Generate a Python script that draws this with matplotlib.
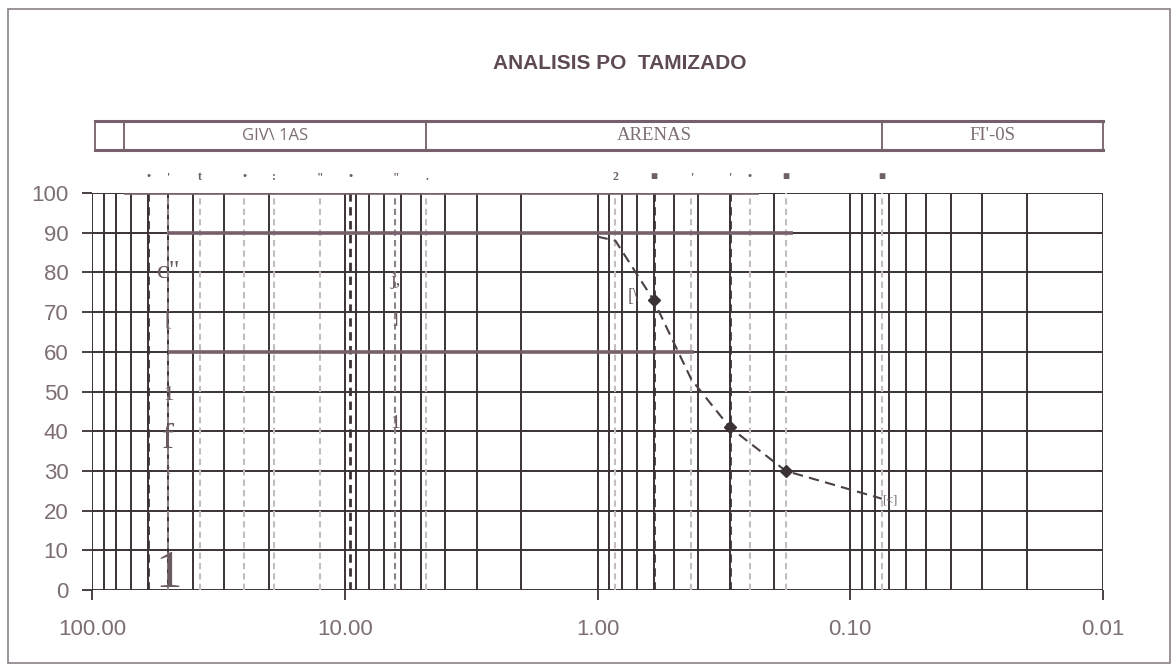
import numpy as np
import matplotlib
matplotlib.use('Agg')
import matplotlib.pyplot as plt
from matplotlib.patches import Rectangle
from matplotlib.transforms import blended_transform_factory

# grading curve (sieve opening in mm, % passing)
curve_mm = [1.0, 0.85, 0.6, 0.425, 0.3, 0.18, 0.075]
curve_pass = [89, 88, 73, 53, 41, 30, 23]
marked = [2, 4, 5]

# sieve lines drawn over the log grid
sieve_mm = [60.0, 50.0, 37.5, 25.0, 19.0, 12.5, 9.5, 6.3, 4.75, 0.85, 0.6, 0.425, 0.3, 0.25, 0.18, 0.075]
sieve_shade = ['dark', 'mid', 'light', 'light', 'light', 'light', 'dark', 'mid', 'light',
               'light', 'dark', 'light', 'dark', 'light', 'light', 'light']
sieve_top = ['•', "'", 't', '•', ':', '"', '•', '"', '.', '2', '■', "'", "'", '•', '■', '■']

# heavy horizontal lines (level, from mm, to mm)
ref_level = [100, 90, 60]
ref_from = [75.0, 50.0, 50.0]
ref_to = [0.23, 0.168, 0.415]

# soil class band above the chart
band_edges = [97.0, 75.0, 4.75, 0.075, 0.01]
band_names = ['', 'GIV\\ 1AS', 'ARENAS', "FI'-0S"]
band_fonts = ['Open Sans', 'Open Sans', 'Liberation Serif', 'Liberation Serif']
band_sizes = [12, 12, 13.5, 13.5]

# stray glyphs left in the scan
glyph_text = ['c"', '[', '1', 'f', 't', '1', 'j,', ']', '1', '[\\']
glyph_mm = [50.0, 50.0, 50.0, 50.0, 50.0, 50.0, 6.3, 6.3, 6.3, 0.72]
glyph_y = [80, 68, 49, 38, 30, 4, 78, 68, 42, 74]
glyph_size = [19, 15, 15, 26, 11, 38, 14, 12, 14, 13]

xticks = [100, 10, 1, 0.1, 0.01]
yticks = list(range(0, 101, 10))

ink = '#3b3236'
mauve = '#76606b'
txt = '#7d6e73'
shade_col = {'dark': '#3b3236', 'mid': '#8c8288', 'light': '#c3bcc0'}

fig = plt.figure(figsize=(11.75, 6.69), dpi=100)
ax = fig.add_axes([92 / 1175, 79 / 669, 1011 / 1175, 397 / 669])
ax.set_xscale('log')
ax.set_xlim(100, 0.01)
ax.set_ylim(0, 100)

# log grid
minor = [m * 10.0 ** e for e in range(-2, 2) for m in range(1, 10)] + [100]
for v in minor:
    ax.axvline(v, color=ink, lw=1.4, zorder=1)
for v in yticks:
    ax.axhline(v, color=ink, lw=1.4, zorder=1)

# sieve lines
for mm, sh, lab in zip(sieve_mm, sieve_shade, sieve_top):
    lw = 2.0 if sh == 'dark' else 1.5
    ax.axvline(mm, color=shade_col[sh], lw=lw, ls=(0, (3, 2)), zorder=2)
    ax.text(mm, 102.5, lab, ha='center', va='bottom', fontsize=8.5, color='#6f6066',
            family='Liberation Serif', fontweight='bold')

for lev, a, b in zip(ref_level, ref_from, ref_to):
    ax.plot([a, b], [lev, lev], color=mauve, lw=2.6, solid_capstyle='butt', zorder=3)

ax.plot(curve_mm, curve_pass, color='#4a4045', lw=1.5, ls=(0, (5, 3)), zorder=4)
ax.plot([curve_mm[i] for i in marked], [curve_pass[i] for i in marked], 'D',
        color='#3b3236', ms=6, zorder=5)
ax.text(curve_mm[-1], curve_pass[-1] - 0.5, '[<]', ha='left', va='center', fontsize=9,
        color='#6f6066', family='Liberation Serif', zorder=5)

for t, mm, yv, fs in zip(glyph_text, glyph_mm, glyph_y, glyph_size):
    ax.text(mm, yv, t, ha='center', va='center', fontsize=fs, color='#6a5a62',
            family='Liberation Serif', zorder=6)

for s in ax.spines.values():
    s.set_visible(False)
ax.set_xticks(xticks)
ax.set_xticklabels(['{:.2f}'.format(x) for x in xticks])
ax.xaxis.set_minor_locator(matplotlib.ticker.NullLocator())
ax.set_yticks(yticks)
ax.tick_params(axis='x', length=7, width=1.3, color=ink, pad=14, labelsize=16, labelcolor=txt)
ax.tick_params(axis='y', length=7, width=1.3, color=ink, pad=10, labelsize=16, labelcolor=txt)
for lab in ax.get_xticklabels() + ax.get_yticklabels():
    lab.set_family('Liberation Sans')

# soil class band
tr = blended_transform_factory(ax.transData, ax.transAxes)
y0, y1 = 1.108, 1.181
ax.plot([band_edges[0], band_edges[-1]], [y0, y0], color=mauve, lw=2.2, transform=tr, clip_on=False)
ax.plot([band_edges[0], band_edges[-1]], [y1, y1], color=mauve, lw=2.2, transform=tr, clip_on=False)
for e in band_edges:
    ax.plot([e, e], [y0, y1], color=mauve, lw=1.3, transform=tr, clip_on=False)
for i, name in enumerate(band_names):
    xm = np.sqrt(band_edges[i] * band_edges[i + 1])
    ax.text(xm, (y0 + y1) / 2, name, ha='center', va='center', fontsize=band_sizes[i],
            color=txt, family=band_fonts[i], transform=tr)

fig.text(0.5277, 0.905, 'ANALISIS PO  TAMIZADO', ha='center', va='center', fontsize=15,
         fontweight='bold', color='#5e4a54', family='Liberation Sans')

fig.add_artist(Rectangle((8 / 1175, 6 / 669), 1162 / 1175, 654 / 669, fill=False,
                         edgecolor='#8a8088', lw=1.2, transform=fig.transFigure))

plt.savefig('out.png', dpi=100)
